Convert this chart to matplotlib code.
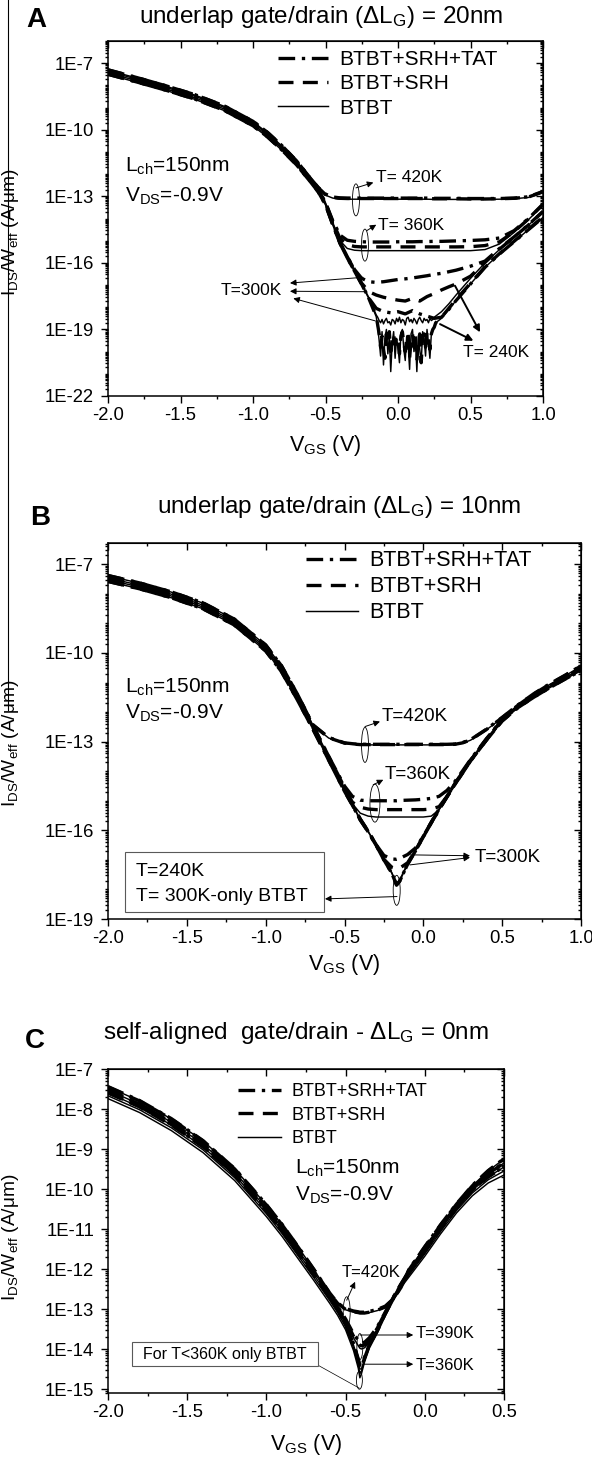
import numpy as np
import matplotlib
matplotlib.use('Agg')
import matplotlib.pyplot as plt
import matplotlib.transforms as mtransforms
from matplotlib.patches import Ellipse, Rectangle
from matplotlib.lines import Line2D
from matplotlib.ticker import FixedLocator, FuncFormatter, MultipleLocator, FormatStrFormatter, NullFormatter

plt.rcParams['font.family'] = ['Liberation Sans', 'DejaVu Sans']
plt.rcParams['mathtext.fontset'] = 'custom'
plt.rcParams['mathtext.rm'] = 'Liberation Sans'
plt.rcParams['mathtext.it'] = 'Liberation Sans:italic'
plt.rcParams['mathtext.bf'] = 'Liberation Sans:bold'
plt.rcParams['axes.unicode_minus'] = False

# ---------------- data (log10 of I_DS/W_eff in A/um) ----------------
# panel A : underlap 20nm
vgs_a = [-2.0, -1.8, -1.6, -1.4, -1.2, -1.0, -0.9, -0.8, -0.7, -0.6, -0.55, -0.5, -0.45, -0.4, -0.35, -0.3,
         -0.25, -0.2, -0.15, -0.1, -0.05, 0.0, 0.05, 0.1, 0.15, 0.2, 0.25, 0.3, 0.35, 0.4, 0.5, 0.6, 0.7, 0.8, 0.9, 1.0]
vgs_a_fine = [-0.14, -0.13, -0.12, -0.11, -0.10, -0.09, -0.08, -0.07, -0.06, -0.05, -0.04, -0.03, -0.02, -0.01,
              0.0, 0.01, 0.02, 0.03, 0.04, 0.05, 0.06, 0.07, 0.08, 0.09, 0.10, 0.11, 0.12, 0.13, 0.14, 0.15,
              0.16, 0.17, 0.18, 0.19, 0.20, 0.21, 0.22, 0.23, 0.24, 0.25, 0.26]
vgs_a_noisy = vgs_a[:19] + vgs_a_fine + vgs_a[27:]

a420_tat = [-7.30, -7.65, -8.02, -8.42, -8.92, -9.62, -10.12, -10.72, -11.40, -12.22,
            -12.60, -12.90, -13.03, -13.07, -13.08, -13.08, -13.08, -13.08, -13.08, -13.08,
            -13.08, -13.08, -13.08, -13.08, -13.08, -13.08, -13.09, -13.09, -13.09, -13.09,
            -13.10, -13.10, -13.10, -13.08, -13.02, -12.78]
a420_srh = [-7.30, -7.65, -8.02, -8.42, -8.92, -9.62, -10.12, -10.72, -11.40, -12.22,
            -12.61, -12.92, -13.05, -13.09, -13.10, -13.10, -13.10, -13.10, -13.10, -13.10,
            -13.10, -13.10, -13.10, -13.10, -13.10, -13.10, -13.11, -13.11, -13.11, -13.11,
            -13.12, -13.12, -13.11, -13.09, -13.03, -12.80]
a420_btbt = [-7.32, -7.67, -8.04, -8.44, -8.94, -9.64, -10.14, -10.74, -11.42, -12.24,
             -12.63, -12.95, -13.08, -13.12, -13.13, -13.13, -13.13, -13.13, -13.13, -13.13,
             -13.13, -13.13, -13.13, -13.13, -13.13, -13.13, -13.14, -13.14, -13.14, -13.14,
             -13.14, -13.14, -13.13, -13.11, -13.05, -12.82]
a360_tat = [-7.36, -7.71, -8.08, -8.48, -8.98, -9.68, -10.18, -10.78, -11.44, -12.24,
            -12.70, -13.28, -14.10, -14.75, -14.98, -15.03, -15.05, -15.06, -15.06, -15.06,
            -15.06, -15.05, -15.05, -15.05, -15.04, -15.04, -15.03, -15.03, -15.02, -15.01,
            -14.99, -14.96, -14.88, -14.55, -14.00, -13.35]
a360_srh = [-7.36, -7.71, -8.08, -8.48, -8.98, -9.68, -10.18, -10.78, -11.44, -12.24,
            -12.70, -13.28, -14.15, -14.90, -15.18, -15.26, -15.28, -15.28, -15.28, -15.28,
            -15.28, -15.28, -15.28, -15.28, -15.28, -15.28, -15.28, -15.28, -15.28, -15.28,
            -15.27, -15.22, -15.05, -14.60, -14.02, -13.37]
a360_btbt = [-7.37, -7.72, -8.09, -8.49, -8.99, -9.69, -10.19, -10.79, -11.45, -12.25,
             -12.70, -13.29, -14.18, -15.00, -15.35, -15.43, -15.45, -15.45, -15.45, -15.45,
             -15.45, -15.45, -15.45, -15.45, -15.45, -15.45, -15.45, -15.45, -15.45, -15.45,
             -15.45, -15.40, -15.15, -14.63, -14.05, -13.40]
a300_tat = [-7.43, -7.78, -8.15, -8.55, -9.05, -9.75, -10.25, -10.85, -11.51, -12.31,
            -12.74, -13.32, -14.22, -15.07, -15.72, -16.30, -16.70, -16.85, -16.88, -16.85,
            -16.80, -16.75, -16.72, -16.68, -16.63, -16.58, -16.52, -16.47, -16.40, -16.33,
            -16.15, -15.92, -15.35, -14.83, -14.28, -13.68]
a300_srh = [-7.43, -7.78, -8.15, -8.55, -9.05, -9.75, -10.25, -10.85, -11.51, -12.31,
            -12.74, -13.32, -14.22, -15.07, -15.72, -16.32, -16.92, -17.30, -17.45, -17.55,
            -17.62, -17.68, -17.72, -17.60, -17.72, -17.52, -17.38, -17.22, -17.08, -16.95,
            -16.60, -15.98, -15.38, -14.84, -14.29, -13.69]
a300_btbt = ([-7.44, -7.79, -8.16, -8.56, -9.06, -9.76, -10.26, -10.86, -11.52, -12.32,
              -12.75, -13.33, -14.23, -15.08, -15.73, -16.33, -16.93, -17.58, -18.35]
             + [-18.45, -18.60, -18.70, -18.55, -18.75, -18.60, -18.50, -18.70, -18.65, -18.80,
                -18.55, -18.60, -18.75, -18.50, -18.65, -18.45, -18.70, -18.55, -18.60, -18.80,
                -18.50, -18.45, -18.65, -18.55, -18.70, -18.50, -18.60, -18.75, -18.55, -18.45,
                -18.60, -18.70, -18.50, -18.60, -18.55, -18.70, -18.50, -18.60, -18.55, -18.45, -18.40]
             + [-18.20, -17.85, -17.45, -16.70, -16.00, -15.40, -14.85, -14.30, -13.70])
a240_tat = [-7.50, -7.85, -8.22, -8.62, -9.12, -9.82, -10.32, -10.92, -11.58, -12.38,
            -12.80, -13.38, -14.28, -15.12, -15.77, -16.37, -16.97, -17.60, -18.05, -18.20,
            -18.25, -18.20, -18.30, -18.15, -18.30, -18.40, -18.50, -18.45, -18.10, -17.70,
            -16.95, -16.20, -15.60, -15.05, -14.50, -13.95]
a240_srh = ([-7.50, -7.85, -8.22, -8.62, -9.12, -9.82, -10.32, -10.92, -11.58, -12.38,
             -12.80, -13.38, -14.28, -15.12, -15.77, -16.37, -16.97, -17.62, -18.42]
            + [-18.80, -19.20, -19.80, -19.30, -19.90, -20.30, -19.20, -19.60, -19.10, -20.00,
               -19.40, -19.20, -19.70, -19.30, -19.50, -20.10, -19.30, -19.10, -19.60, -20.00,
               -19.40, -19.20, -20.30, -19.50, -19.20, -19.80, -19.30, -20.40, -19.60, -19.20,
               -20.50, -19.30, -19.20, -19.80, -19.10, -19.40, -19.90, -19.20, -19.00, -18.90, -18.70]
            + [-18.45, -18.05, -17.65, -16.92, -16.18, -15.58, -15.03, -14.48, -13.93])
a240_btbt = ([-7.51, -7.86, -8.23, -8.63, -9.13, -9.83, -10.33, -10.93, -11.59, -12.39,
              -12.81, -13.39, -14.29, -15.13, -15.78, -16.38, -16.98, -17.63, -18.43]
             + [-18.90, -19.50, -20.20, -19.10, -20.60, -19.40, -19.00, -20.10, -19.30, -20.90,
                -19.60, -19.10, -20.30, -19.40, -19.80, -20.50, -19.20, -19.00, -19.90, -20.40,
                -19.30, -19.70, -20.80, -19.20, -19.00, -20.00, -19.40, -20.90, -19.30, -19.90,
                -20.50, -19.10, -19.40, -20.20, -19.00, -19.60, -20.30, -19.20, -19.00, -18.90, -18.70]
             + [-18.50, -18.10, -17.70, -16.95, -16.20, -15.60, -15.05, -14.50, -13.95])

# panel B : underlap 10nm
vgs_b = [-2.0, -1.8, -1.6, -1.4, -1.2, -1.0, -0.9, -0.8, -0.7, -0.6, -0.5, -0.45, -0.4, -0.35, -0.3, -0.25,
         -0.2, -0.17, -0.15, -0.1, -0.05, 0.0, 0.05, 0.1, 0.15, 0.2, 0.25, 0.3, 0.4, 0.5, 0.6, 0.7, 0.8, 0.9, 1.0]
b240 = [-7.58, -7.83, -8.13, -8.50, -9.05, -9.93, -10.63, -11.58, -12.58, -13.63,
        -14.68, -15.15, -15.65, -16.05, -16.50, -17.00, -17.45, -17.85, -17.72, -17.15,
        -16.70, -16.22, -15.75, -15.30, -14.87, -14.45, -14.05, -13.65, -12.95, -12.30,
        -11.85, -11.50, -11.18, -10.88, -10.60]
b300_btbt = [-7.52, -7.77, -8.07, -8.44, -8.99, -9.87, -10.57, -11.52, -12.52, -13.57,
             -14.62, -15.12, -15.62, -16.03, -16.48, -16.98, -17.43, -17.80, -17.68, -17.12,
             -16.68, -16.20, -15.73, -15.28, -14.85, -14.43, -14.03, -13.63, -12.93, -12.27,
             -11.82, -11.46, -11.14, -10.84, -10.55]
b300_srh = [-7.52, -7.77, -8.07, -8.44, -8.99, -9.87, -10.57, -11.52, -12.52, -13.57,
            -14.62, -15.12, -15.62, -16.03, -16.48, -16.98, -17.25, -17.30, -17.28, -17.10,
            -16.68, -16.20, -15.73, -15.28, -14.85, -14.43, -14.03, -13.63, -12.93, -12.27,
            -11.82, -11.46, -11.14, -10.84, -10.55]
b300_tat = [-7.52, -7.77, -8.07, -8.44, -8.99, -9.87, -10.57, -11.52, -12.52, -13.57,
            -14.62, -15.12, -15.62, -16.03, -16.48, -16.85, -16.97, -16.98, -16.95, -16.82,
            -16.60, -16.20, -15.73, -15.28, -14.85, -14.43, -14.03, -13.63, -12.93, -12.27,
            -11.82, -11.46, -11.14, -10.84, -10.55]
b360_tat = [-7.45, -7.70, -8.00, -8.37, -8.92, -9.80, -10.50, -11.45, -12.45, -13.50,
            -14.50, -14.85, -14.98, -15.00, -15.00, -15.00, -15.00, -15.00, -14.99, -14.98,
            -14.97, -14.95, -14.92, -14.85, -14.65, -14.35, -13.98, -13.60, -12.90, -12.25,
            -11.78, -11.42, -11.10, -10.80, -10.50]
b360_srh = [-7.45, -7.70, -8.00, -8.37, -8.92, -9.80, -10.50, -11.45, -12.45, -13.50,
            -14.55, -15.05, -15.22, -15.28, -15.30, -15.30, -15.30, -15.30, -15.30, -15.30,
            -15.30, -15.30, -15.28, -15.20, -14.85, -14.42, -14.02, -13.62, -12.92, -12.26,
            -11.80, -11.44, -11.12, -10.82, -10.52]
b360_btbt = [-7.46, -7.71, -8.01, -8.38, -8.93, -9.81, -10.51, -11.46, -12.46, -13.51,
             -14.60, -15.10, -15.42, -15.52, -15.55, -15.55, -15.55, -15.55, -15.55, -15.55,
             -15.55, -15.55, -15.52, -15.30, -14.87, -14.44, -14.03, -13.63, -12.93, -12.27,
             -11.81, -11.45, -11.13, -10.83, -10.53]
b420_tat = [-7.38, -7.63, -7.93, -8.30, -8.85, -9.73, -10.43, -11.38, -12.43, -12.86,
            -13.04, -13.07, -13.09, -13.09, -13.09, -13.09, -13.09, -13.09, -13.09, -13.09,
            -13.09, -13.09, -13.09, -13.09, -13.09, -13.08, -13.03, -12.93, -12.58, -12.18,
            -11.76, -11.38, -11.05, -10.75, -10.43]
b420_srh = [-7.38, -7.63, -7.93, -8.30, -8.85, -9.73, -10.43, -11.38, -12.44, -12.87,
            -13.05, -13.08, -13.10, -13.10, -13.10, -13.10, -13.10, -13.10, -13.10, -13.10,
            -13.10, -13.10, -13.10, -13.10, -13.10, -13.09, -13.04, -12.94, -12.59, -12.19,
            -11.77, -11.39, -11.06, -10.76, -10.44]
b420_btbt = [-7.39, -7.64, -7.94, -8.31, -8.86, -9.74, -10.44, -11.39, -12.45, -12.88,
             -13.06, -13.09, -13.11, -13.11, -13.11, -13.11, -13.11, -13.11, -13.11, -13.11,
             -13.11, -13.11, -13.11, -13.11, -13.11, -13.10, -13.05, -12.95, -12.60, -12.20,
             -11.78, -11.40, -11.07, -10.77, -10.45]

# panel C : self-aligned
vgs_c = [-2.0, -1.8, -1.6, -1.4, -1.2, -1.0, -0.9, -0.8, -0.7, -0.6, -0.55, -0.5, -0.45, -0.42, -0.41,
         -0.4, -0.38, -0.35, -0.3, -0.25, -0.2, -0.15, -0.1, 0.0, 0.1, 0.2, 0.3, 0.4, 0.5]
c300_btbt = [-7.74, -8.09, -8.54, -9.09, -9.79, -10.69, -11.19, -11.74, -12.29, -12.86,
             -13.16, -13.52, -14.04, -14.48, -14.72, -14.62, -14.32, -13.98, -13.60, -13.18,
             -12.80, -12.46, -12.20, -11.68, -11.12, -10.60, -10.17, -9.85, -9.65]
c330_btbt = [-7.67, -8.02, -8.47, -9.02, -9.72, -10.62, -11.12, -11.67, -12.22, -12.79,
             -13.09, -13.45, -13.97, -14.40, -14.62, -14.55, -14.28, -13.95, -13.57, -13.15,
             -12.77, -12.43, -12.15, -11.62, -11.06, -10.54, -10.10, -9.77, -9.55]
c360_btbt = [-7.60, -7.95, -8.40, -8.95, -9.65, -10.55, -11.05, -11.60, -12.15, -12.72,
             -13.02, -13.38, -13.90, -14.30, -14.50, -14.50, -14.25, -13.92, -13.55, -13.12,
             -12.74, -12.40, -12.10, -11.56, -11.00, -10.48, -10.03, -9.70, -9.45]
c360_srh = [-7.60, -7.95, -8.40, -8.95, -9.65, -10.55, -11.05, -11.60, -12.15, -12.72,
            -13.02, -13.38, -13.88, -14.28, -14.45, -14.45, -14.22, -13.90, -13.55, -13.12,
            -12.74, -12.40, -12.10, -11.56, -11.00, -10.48, -10.03, -9.70, -9.45]
c360_tat = [-7.59, -7.94, -8.39, -8.94, -9.64, -10.54, -11.04, -11.59, -12.14, -12.71,
            -13.01, -13.37, -13.86, -14.25, -14.40, -14.40, -14.20, -13.88, -13.54, -13.11,
            -12.73, -12.39, -12.09, -11.55, -10.99, -10.47, -10.02, -9.69, -9.44]
c390_btbt = [-7.53, -7.88, -8.33, -8.88, -9.58, -10.48, -10.98, -11.53, -12.08, -12.65,
             -12.97, -13.30, -13.72, -13.92, -13.98, -14.00, -13.97, -13.83, -13.50, -13.10,
             -12.72, -12.38, -12.06, -11.52, -10.96, -10.43, -9.97, -9.62, -9.35]
c390_srh = [-7.53, -7.88, -8.33, -8.88, -9.58, -10.48, -10.98, -11.53, -12.08, -12.65,
            -12.96, -13.28, -13.68, -13.85, -13.90, -13.92, -13.90, -13.78, -13.48, -13.09,
            -12.72, -12.38, -12.06, -11.52, -10.96, -10.43, -9.97, -9.62, -9.35]
c390_tat = [-7.52, -7.87, -8.32, -8.87, -9.57, -10.47, -10.97, -11.52, -12.07, -12.63,
            -12.94, -13.25, -13.62, -13.78, -13.83, -13.85, -13.83, -13.72, -13.45, -13.08,
            -12.71, -12.37, -12.05, -11.51, -10.95, -10.42, -9.96, -9.61, -9.34]
c420_btbt = [-7.45, -7.80, -8.25, -8.80, -9.50, -10.40, -10.90, -11.45, -12.02, -12.62,
             -12.87, -13.02, -13.08, -13.10, -13.11, -13.11, -13.11, -13.09, -13.04, -12.96,
             -12.77, -12.47, -12.02, -11.45, -10.90, -10.38, -9.92, -9.55, -9.25]
c420_srh = [-7.45, -7.80, -8.25, -8.80, -9.50, -10.40, -10.90, -11.45, -12.02, -12.61,
            -12.86, -13.01, -13.07, -13.09, -13.10, -13.10, -13.10, -13.08, -13.03, -12.95,
            -12.76, -12.46, -12.02, -11.45, -10.90, -10.38, -9.92, -9.55, -9.25]
c420_tat = [-7.44, -7.79, -8.24, -8.79, -9.49, -10.39, -10.89, -11.44, -12.01, -12.60,
            -12.85, -12.99, -13.05, -13.07, -13.08, -13.08, -13.08, -13.06, -13.01, -12.93,
            -12.75, -12.45, -12.01, -11.44, -10.89, -10.37, -9.91, -9.54, -9.24]

legend_labels = ['BTBT+SRH+TAT', 'BTBT+SRH', 'BTBT']

# line styles of the three models
STY = {
    'tat': dict(color='k', lw=2.4, ls=(0, (5.0, 2.0, 1.0, 2.0))),
    'srh': dict(color='k', lw=2.4, ls=(0, (4.5, 2.8))),
    'btbt': dict(color='k', lw=1.05, ls='-'),
}

fig = plt.figure(figsize=(5.92, 14.59), dpi=100)
W, H = 592.0, 1459.0


def axes_px(x0, y0, x1, y1):
    return fig.add_axes([x0 / W, 1 - y1 / H, (x1 - x0) / W, (y1 - y0) / H])


def curve(ax, v, lg, kind):
    ax.plot(v, 10.0 ** np.array(lg), **STY[kind])


def P(v, lg):
    return (v, 10.0 ** lg)


def arrow(ax, tail, head, lw=0.7, ms=9):
    ax.annotate('', xy=P(*head), xytext=P(*tail),
                arrowprops=dict(arrowstyle='-|>', color='k', lw=lw, shrinkA=0, shrinkB=0,
                                mutation_scale=ms))


def ellipse(ax, v, lg, w_px, h_px):
    tr = fig.dpi_scale_trans + mtransforms.ScaledTranslation(v, 10.0 ** lg, ax.transData)
    ax.add_patch(Ellipse((0, 0), w_px / 100, h_px / 100, transform=tr, fill=False,
                         ec='k', lw=0.6, clip_on=False))


def setup(ax, xlim, ylog, xmaj, labelled, every):
    ax.set_yscale('log')
    ax.set_xlim(*xlim)
    ax.set_ylim(10.0 ** ylog[0], 10.0 ** ylog[1])
    e0, e1 = int(np.floor(ylog[0])), int(np.ceil(ylog[1]))
    majors = [10.0 ** e for e in range(e0, e1 + 1) if (e - labelled) % every == 0]
    minors = [m * 10.0 ** e for e in range(e0, e1 + 1) for m in range(1, 10)]
    fmt = FuncFormatter(lambda val, pos: '1E%d' % int(round(np.log10(val))))
    ax.yaxis.set_major_locator(FixedLocator(majors))
    ax.yaxis.set_minor_locator(FixedLocator(minors))
    ax.yaxis.set_major_formatter(fmt)
    ax.yaxis.set_minor_formatter(NullFormatter())
    ax.xaxis.set_major_locator(MultipleLocator(xmaj))
    ax.xaxis.set_minor_locator(MultipleLocator(xmaj / 2))
    ax.xaxis.set_major_formatter(FormatStrFormatter('%.1f'))
    ax.tick_params(which='both', direction='out', top=False, right=False, labelsize=13.3, width=1.0)
    ax.tick_params(axis='y', which='major', length=5, pad=5)
    ax.tick_params(axis='y', which='minor', length=2.5)
    ax.tick_params(axis='x', which='major', length=5, pad=3)
    ax.tick_params(axis='x', which='minor', length=2.5)
    for s in ax.spines.values():
        s.set_linewidth(1.1)
    # mirrored axes with inward ticks
    sx = ax.secondary_xaxis('top')
    sx.xaxis.set_major_locator(MultipleLocator(xmaj))
    sx.xaxis.set_minor_locator(MultipleLocator(xmaj / 2))
    sx.tick_params(which='both', direction='in', labeltop=False, width=1.0)
    sx.tick_params(which='major', length=5)
    sx.tick_params(which='minor', length=2.5)
    sy = ax.secondary_yaxis('right')
    sy.yaxis.set_major_locator(FixedLocator(majors))
    sy.yaxis.set_minor_locator(FixedLocator(minors))
    sy.yaxis.set_major_formatter(NullFormatter())
    sy.yaxis.set_minor_formatter(NullFormatter())
    sy.tick_params(which='both', direction='in', labelright=False, width=1.0)
    sy.tick_params(which='major', length=5)
    sy.tick_params(which='minor', length=2.5)
    ax.set_xlabel(r'V$_{\rm GS}$ (V)', fontsize=15.5)
    ax.set_ylabel(r'I$_{\rm DS}$/W$_{\rm eff}$ (A/μm)', fontsize=13.8)


def add_legend(ax, x, y, fs, ls):
    handles = [Line2D([], [], **STY['tat']), Line2D([], [], **STY['srh']), Line2D([], [], **STY['btbt'])]
    ax.legend(handles, legend_labels, loc='upper left', bbox_to_anchor=(x, y), frameon=False,
              fontsize=fs, handlelength=2.4, handletextpad=0.55, labelspacing=ls,
              borderpad=0, borderaxespad=0)


# ---------------- panel A ----------------
axA = axes_px(108, 41, 543, 396)
setup(axA, (-2.0, 1.0), (-22, -6), 0.5, -7, 3)
curve(axA, vgs_a, a420_btbt, 'btbt')
curve(axA, vgs_a, a360_btbt, 'btbt')
curve(axA, vgs_a_noisy, a300_btbt, 'btbt')
curve(axA, vgs_a_noisy, a240_btbt, 'btbt')
curve(axA, vgs_a, a420_srh, 'srh')
curve(axA, vgs_a, a360_srh, 'srh')
curve(axA, vgs_a, a300_srh, 'srh')
curve(axA, vgs_a_noisy, a240_srh, 'srh')
curve(axA, vgs_a, a420_tat, 'tat')
curve(axA, vgs_a, a360_tat, 'tat')
curve(axA, vgs_a, a300_tat, 'tat')
curve(axA, vgs_a, a240_tat, 'tat')
add_legend(axA, 0.39, 0.975, 15, 0.26)
axA.xaxis.set_label_coords(0.5, -0.105)
axA.yaxis.set_label_coords(-0.2, 0.46)

axA.text(*P(-1.88, -11.64), r'L$_{\rm ch}$=150nm', fontsize=15, va='center')
axA.text(*P(-1.88, -12.99), r'V$_{\rm DS}$=-0.9V', fontsize=15, va='center')
axA.text(*P(-0.15, -12.13), 'T= 420K', fontsize=12.5, va='center')
arrow(axA, (-0.29, -12.62), (-0.17, -12.38))
ellipse(axA, -0.29, -13.16, 7, 32)
axA.text(*P(-0.135, -14.33), 'T= 360K', fontsize=12.5, va='center')
arrow(axA, (-0.216, -14.55), (-0.15, -14.28))
ellipse(axA, -0.228, -15.2, 7, 32)
axA.text(*P(-0.80, -17.26), 'T=300K', fontsize=12.5, va='center', ha='right')
arrow(axA, (-0.241, -16.65), (-0.745, -16.91))
arrow(axA, (-0.218, -17.30), (-0.745, -17.28))
arrow(axA, (-0.159, -18.61), (-0.722, -17.60))
axA.text(*P(0.448, -20.04), 'T= 240K', fontsize=12.5, va='center')
arrow(axA, (0.29, -18.76), (0.52, -19.51), lw=1.4, ms=10)
arrow(axA, (0.393, -17.03), (0.566, -19.13), lw=1.4, ms=10)

# ---------------- panel B ----------------
axB = axes_px(108, 543, 581, 919)
setup(axB, (-2.0, 1.0), (-19, -6.28), 0.5, -7, 3)
curve(axB, vgs_b, b420_btbt, 'btbt')
curve(axB, vgs_b, b360_btbt, 'btbt')
curve(axB, vgs_b, b300_btbt, 'btbt')
curve(axB, vgs_b, b240, 'btbt')
curve(axB, vgs_b, b420_srh, 'srh')
curve(axB, vgs_b, b360_srh, 'srh')
curve(axB, vgs_b, b300_srh, 'srh')
curve(axB, vgs_b, b240, 'srh')
curve(axB, vgs_b, b420_tat, 'tat')
curve(axB, vgs_b, b360_tat, 'tat')
curve(axB, vgs_b, b300_tat, 'tat')
curve(axB, vgs_b, b240, 'tat')
add_legend(axB, 0.419, 0.981, 15.5, 0.24)
axB.xaxis.set_label_coords(0.5, -0.088)
axB.yaxis.set_label_coords(-0.184, 0.468)

axB.text(*P(-1.89, -11.15), r'L$_{\rm ch}$=150nm', fontsize=15, va='center')
axB.text(*P(-1.89, -12.03), r'V$_{\rm DS}$=-0.9V', fontsize=15, va='center')
axB.text(*P(-0.263, -12.16), 'T=420K', fontsize=13.5, va='center')
arrow(axB, (-0.37, -12.49), (-0.275, -12.32))
ellipse(axB, -0.37, -13.11, 7, 35)
axB.text(*P(-0.244, -14.12), 'T=360K', fontsize=13.5, va='center')
arrow(axB, (-0.318, -14.46), (-0.254, -14.29))
ellipse(axB, -0.307, -15.08, 10, 38)
axB.text(*P(0.324, -16.93), 'T=300K', fontsize=13.5, va='center')
arrow(axB, (-0.085, -16.83), (0.296, -16.86))
arrow(axB, (-0.085, -17.17), (0.296, -16.92))
axB.add_patch(Rectangle((0.036, 0.0186), 0.421, 0.159, transform=axB.transAxes, fc='white',
                        ec='0.35', lw=0.8, zorder=5))
axB.text(0.059, 0.126, 'T=240K', transform=axB.transAxes, fontsize=14, va='center', zorder=6)
axB.text(0.059, 0.06, 'T= 300K-only BTBT', transform=axB.transAxes, fontsize=14, va='center', zorder=6)
arrow(axB, (-0.167, -18.24), (-0.624, -18.32))
ellipse(axB, -0.169, -18.03, 7, 30)

# ---------------- panel C ----------------
axC = axes_px(108, 1069, 504, 1393)
setup(axC, (-2.0, 0.5), (-15.1, -7), 0.5, -7, 1)
for lg in (c420_btbt, c390_btbt, c360_btbt, c330_btbt, c300_btbt):
    curve(axC, vgs_c, lg, 'btbt')
for lg in (c420_srh, c390_srh, c360_srh):
    curve(axC, vgs_c, lg, 'srh')
for lg in (c420_tat, c390_tat, c360_tat):
    curve(axC, vgs_c, lg, 'tat')
add_legend(axC, 0.328, 0.957, 13, 0.37)
axC.xaxis.set_label_coords(0.5, -0.12)
axC.yaxis.set_label_coords(-0.22, 0.48)

axC.text(*P(-0.82, -9.475), r'L$_{\rm ch}$=150nm', fontsize=15, va='center')
axC.text(*P(-0.82, -10.15), r'V$_{\rm DS}$=-0.9V', fontsize=15, va='center')
axC.text(*P(-0.523, -12.08), 'T=420K', fontsize=12, va='center')
arrow(axC, (-0.493, -12.78), (-0.44, -12.32))
ellipse(axC, -0.493, -13.07, 7, 30)
axC.text(*P(-0.056, -13.6), 'T=390K', fontsize=12, va='center')
arrow(axC, (-0.409, -13.65), (-0.073, -13.65))
ellipse(axC, -0.41, -13.94, 6, 26)
axC.text(*P(-0.056, -14.42), 'T=360K', fontsize=12, va='center')
arrow(axC, (-0.388, -14.38), (-0.073, -14.38))
axC.add_patch(Rectangle((0.061, 0.083), 0.469, 0.074, transform=axC.transAxes, fc='white',
                        ec='0.35', lw=0.8, zorder=5))
axC.text(0.295, 0.12, 'For T<360K only BTBT', transform=axC.transAxes, fontsize=11.5, ha='center',
         va='center', zorder=6)
axC.plot([-0.672, -0.413], [10.0 ** -14.41, 10.0 ** -14.98], color='k', lw=0.5)
ellipse(axC, -0.413, -14.78, 6, 18)

# ---------------- titles & panel letters ----------------
fig.text(321 / W, 1 - 22.7 / H, r'underlap gate/drain (ΔL$_{\rm G}$) = 20nm', fontsize=17.5,
         ha='center', va='baseline')
fig.text(339 / W, 1 - 513.3 / H, r'underlap gate/drain (ΔL$_{\rm G}$) = 10nm', fontsize=17.5,
         ha='center', va='baseline')
fig.text(296 / W, 1 - 1039 / H, r'self-aligned  gate/drain - ΔL$_{\rm G}$ = 0nm', fontsize=17.5,
         ha='center', va='baseline')
fig.text(36 / W, 1 - 26.7 / H, 'A', fontsize=20, fontweight='bold', ha='center', va='baseline')
fig.text(40.5 / W, 1 - 525 / H, 'B', fontsize=20, fontweight='bold', ha='center', va='baseline')
fig.text(35 / W, 1 - 1048.3 / H, 'C', fontsize=20, fontweight='bold', ha='center', va='baseline')

# thin border line at the left edge
fig.add_artist(Line2D([7.5 / W, 7.5 / W], [1.0, 1 - 710 / H], transform=fig.transFigure, color='k', lw=0.8))

fig.savefig('out.png', dpi=100)
